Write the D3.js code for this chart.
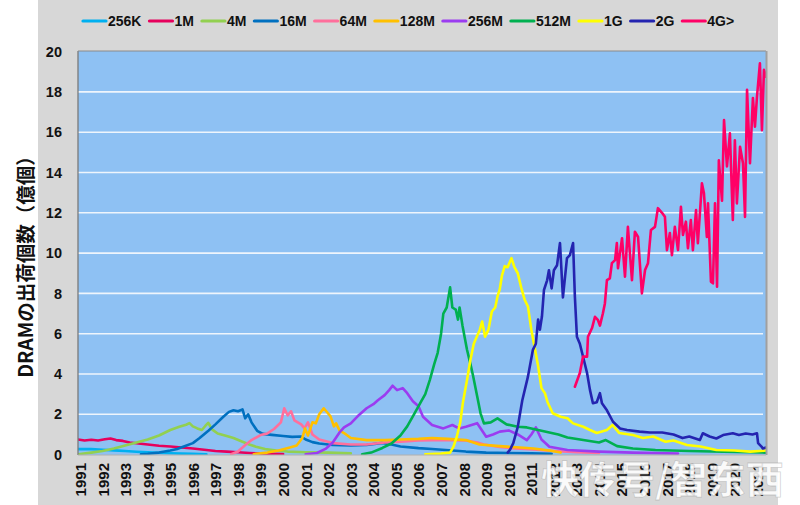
<!DOCTYPE html>
<html><head><meta charset="utf-8">
<script src="https://cdn.jsdelivr.net/npm/d3@7"></script>
<style>body{margin:0;background:#fff}</style>
</head><body>
<svg id="c" width="800" height="505"></svg>
<script>
// ---- data (year, 億個) ----
const seriesNames = ["256K","1M","4M","16M","64M","128M","256M","512M","1G","2G","4G>"];
const yTicks = [0,2,4,6,8,10,12,14,16,18,20];
const xYears = d3.range(1991, 2022);

const s256K = [[1990.91,0.27],[1991.5,0.27],[1992,0.24],[1992.5,0.21],[1993,0.18],[1993.5,0.14],[1994,0.11],[1994.5,0.09],[1995,0.07],[1995.5,0.05],[1996,0.04],[1996.6,0.02]];
const s1M = [[1990.91,0.75],[1991.2,0.7],[1991.5,0.74],[1991.8,0.7],[1992.1,0.76],[1992.35,0.8],[1992.6,0.72],[1992.9,0.68],[1993.2,0.6],[1993.6,0.55],[1994,0.5],[1994.5,0.44],[1995,0.4],[1995.5,0.35],[1996,0.3],[1996.6,0.23],[1997,0.18],[1997.5,0.15],[1998,0.12],[1998.5,0.08],[1999,0.05],[1999.5,0.04],[2000,0.03]];
const s4M = [[1990.91,0.02],[1991.5,0.1],[1992,0.18],[1992.5,0.3],[1993,0.45],[1993.5,0.6],[1994,0.75],[1994.5,0.95],[1995,1.22],[1995.4,1.38],[1995.7,1.48],[1995.85,1.56],[1996.0,1.4],[1996.2,1.3],[1996.4,1.22],[1996.55,1.42],[1996.68,1.58],[1996.85,1.25],[1997.1,1.05],[1997.5,0.92],[1997.8,0.82],[1998.2,0.64],[1998.5,0.5],[1998.8,0.39],[1999.2,0.28],[1999.7,0.2],[2000.2,0.15],[2001,0.12],[2002,0.1],[2003,0.06]];
const s16M = [[1993.7,0.02],[1994,0.04],[1994.5,0.1],[1995,0.2],[1995.3,0.28],[1995.6,0.4],[1996,0.57],[1996.3,0.82],[1996.7,1.2],[1997.0,1.5],[1997.35,1.88],[1997.6,2.12],[1997.8,2.2],[1998.0,2.15],[1998.2,2.24],[1998.32,1.8],[1998.45,2.0],[1998.6,1.6],[1998.85,1.18],[1999.1,1.03],[1999.5,0.98],[2000,0.92],[2000.4,0.88],[2000.8,0.9],[2001.0,0.75],[2001.3,0.62],[2001.6,0.55],[2002.2,0.48],[2003,0.45],[2003.7,0.48],[2004.4,0.58],[2004.8,0.5],[2005.2,0.4],[2006,0.32],[2006.6,0.28],[2007.5,0.2],[2008.1,0.15],[2009,0.1],[2010,0.08],[2011,0.06],[2011.9,0.04]];
const s64M = [[1997.7,0.02],[1998,0.15],[1998.3,0.45],[1998.6,0.72],[1999.0,0.97],[1999.3,1.05],[1999.6,1.27],[1999.9,1.6],[2000.05,2.3],[2000.2,1.95],[2000.35,2.15],[2000.5,1.7],[2000.8,1.5],[2000.95,1.3],[2001.1,1.6],[2001.3,1.0],[2001.6,0.75],[2002.2,0.57],[2003,0.5],[2003.7,0.5],[2004.5,0.6],[2005.2,0.64],[2006,0.7],[2006.6,0.72],[2007.3,0.72],[2008.1,0.7],[2008.6,0.6],[2008.9,0.5],[2009.6,0.38],[2010.3,0.3],[2011.1,0.25],[2012,0.18],[2013,0.12],[2014,0.08]];
const s128M = [[1998.7,0.02],[1999.3,0.1],[1999.8,0.2],[2000.3,0.35],[2000.6,0.45],[2000.85,0.82],[2000.97,1.3],[2001.1,0.95],[2001.3,1.6],[2001.45,1.55],[2001.6,2.0],[2001.8,2.3],[2001.95,2.1],[2002.1,1.9],[2002.25,1.4],[2002.35,1.55],[2002.5,1.2],[2002.7,1.07],[2003,0.82],[2003.7,0.72],[2004.5,0.72],[2005.2,0.75],[2006,0.78],[2006.6,0.82],[2007.3,0.78],[2008.1,0.72],[2008.7,0.5],[2009.6,0.42],[2010.5,0.35],[2011.1,0.3],[2011.8,0.2],[2012.3,0.1]];
const s256M = [[2001.0,0.02],[2001.5,0.08],[2001.9,0.3],[2002.2,0.6],[2002.5,1.1],[2002.7,1.35],[2003,1.55],[2003.3,1.9],[2003.7,2.3],[2004.0,2.5],[2004.2,2.7],[2004.5,2.95],[2004.7,3.2],[2004.85,3.42],[2005.05,3.2],[2005.3,3.3],[2005.5,3.05],[2005.75,2.65],[2006.0,2.4],[2006.2,1.88],[2006.6,1.47],[2007.1,1.3],[2007.5,1.47],[2007.8,1.3],[2008.1,1.38],[2008.6,1.56],[2009.0,0.89],[2009.3,1.0],[2009.6,1.14],[2010.0,1.2],[2010.4,1.0],[2010.8,0.72],[2011.0,1.0],[2011.2,1.35],[2011.45,0.75],[2011.8,0.39],[2012.6,0.23],[2014,0.15],[2015.5,0.1],[2017.5,0.05]];
const s512M = [[2003.5,0.02],[2003.9,0.1],[2004.4,0.33],[2004.8,0.55],[2005.2,0.95],[2005.5,1.4],[2005.8,2.0],[2006.1,2.6],[2006.3,3.0],[2006.5,3.7],[2006.7,4.5],[2006.85,5.05],[2007.0,6.0],[2007.1,7.0],[2007.25,7.3],[2007.4,8.3],[2007.5,7.3],[2007.65,7.2],[2007.75,6.7],[2007.82,7.3],[2007.95,6.4],[2008.05,5.8],[2008.15,5.2],[2008.3,4.5],[2008.42,3.9],[2008.6,2.9],[2008.75,2.05],[2008.9,1.55],[2009.2,1.6],[2009.5,1.8],[2009.9,1.5],[2010.4,1.38],[2010.8,1.35],[2011.2,1.25],[2011.8,1.1],[2012.2,1.0],[2012.6,0.85],[2013.3,0.72],[2014,0.6],[2014.3,0.72],[2014.8,0.42],[2015.5,0.3],[2016.5,0.23],[2018,0.18],[2019.5,0.14],[2021.4,0.1]];
const s1G = [[2006.3,0.02],[2007,0.05],[2007.4,0.1],[2007.55,0.4],[2007.7,0.9],[2007.85,1.6],[2007.97,2.6],[2008.15,3.7],[2008.3,4.7],[2008.45,5.5],[2008.6,5.9],[2008.72,6.2],[2008.82,6.6],[2008.95,5.85],[2009.1,6.2],[2009.25,7.1],[2009.4,7.3],[2009.5,7.85],[2009.6,8.2],[2009.7,8.9],[2009.82,9.35],[2009.95,9.3],[2010.12,9.75],[2010.25,9.3],[2010.4,9.0],[2010.55,8.3],[2010.7,7.7],[2010.85,7.35],[2011.0,6.2],[2011.15,5.3],[2011.3,4.4],[2011.45,3.3],[2011.6,3.05],[2011.72,2.6],[2011.95,2.05],[2012.3,1.88],[2012.6,1.8],[2012.85,1.55],[2013.3,1.38],[2013.6,1.22],[2013.9,1.07],[2014.35,1.22],[2014.6,1.47],[2014.9,1.07],[2015.5,0.97],[2015.95,0.82],[2016.4,0.9],[2016.95,0.64],[2017.3,0.7],[2017.9,0.48],[2018.5,0.4],[2019.2,0.23],[2020,0.2],[2020.7,0.15],[2021.4,0.2]];
const s2G = [[2009.95,0.1],[2010.05,0.23],[2010.2,0.57],[2010.4,1.38],[2010.6,2.7],[2010.85,3.87],[2011.07,5.2],[2011.2,5.5],[2011.3,6.7],[2011.38,6.2],[2011.47,6.85],[2011.56,8.17],[2011.7,8.65],[2011.78,9.15],[2011.9,8.25],[2012.0,9.15],[2012.14,9.4],[2012.27,10.5],[2012.4,7.8],[2012.58,9.75],[2012.71,9.9],[2012.85,10.5],[2012.93,7.85],[2013.02,5.85],[2013.15,5.5],[2013.29,4.87],[2013.47,4.05],[2013.6,3.2],[2013.73,2.55],[2013.9,2.6],[2014.04,3.05],[2014.13,2.55],[2014.35,2.2],[2014.62,1.63],[2014.93,1.3],[2015.24,1.22],[2015.8,1.14],[2016.25,1.1],[2016.8,1.1],[2017.3,1.0],[2017.7,0.82],[2018.0,0.9],[2018.47,0.72],[2018.6,1.06],[2018.9,0.9],[2019.2,0.8],[2019.5,0.97],[2019.93,1.06],[2020.2,0.97],[2020.5,1.05],[2020.8,1.0],[2021.0,1.06],[2021.05,0.57],[2021.2,0.4],[2021.26,0.3],[2021.4,0.35]];
const s4G = [[2012.93,3.37],[2013.15,4.05],[2013.29,4.86],[2013.47,4.86],[2013.51,5.85],[2013.69,6.28],[2013.82,6.84],[2013.95,6.68],[2014.04,6.4],[2014.17,7.0],[2014.26,7.5],[2014.35,8.66],[2014.48,8.75],[2014.57,9.5],[2014.71,9.65],[2014.79,10.5],[2014.84,9.25],[2015.02,10.74],[2015.15,8.83],[2015.28,11.3],[2015.46,8.66],[2015.59,11.06],[2015.73,10.8],[2015.9,8.0],[2016.04,9.16],[2016.17,9.5],[2016.3,11.15],[2016.48,11.3],[2016.61,12.23],[2016.79,12.0],[2016.92,11.8],[2017.01,10.15],[2017.14,11.0],[2017.23,9.9],[2017.36,11.3],[2017.5,10.15],[2017.63,12.3],[2017.72,10.9],[2017.85,11.56],[2017.94,10.24],[2018.07,11.64],[2018.16,10.15],[2018.3,12.14],[2018.38,10.49],[2018.56,13.46],[2018.65,12.97],[2018.78,10.8],[2018.83,12.47],[2018.96,8.58],[2019.05,8.5],[2019.14,12.47],[2019.23,8.33],[2019.31,14.6],[2019.45,12.6],[2019.54,16.6],[2019.67,14.3],[2019.8,15.94],[2019.93,11.64],[2020.02,15.6],[2020.11,12.47],[2020.25,15.28],[2020.38,14.46],[2020.47,11.8],[2020.56,18.1],[2020.69,14.46],[2020.82,17.7],[2020.91,16.27],[2021.0,17.76],[2021.13,19.42],[2021.22,16.1],[2021.31,19.1],[2021.4,18.75]];

const seriesData = [s256K,s1M,s4M,s16M,s64M,s128M,s256M,s512M,s1G,s2G,s4G];
const seriesColors = ["#00b0f0","#e6005c","#92d050","#0070c0","#ff6f9c","#ffc000","#9b3cf0","#00b050","#ffff00","#2424b0","#ff0066"];
const yTitle = "DRAMの出荷個数（億個）";
const watermark = "快传号/智东西";

// ---- drawing ----
const svg = d3.select("#c");
const L = 78, R = 766, T = 51, B = 455;
const font = "'Liberation Sans', Arial, sans-serif";

svg.append("rect").attr("x",38).attr("y",0).attr("width",740).attr("height",505).attr("fill","#d7d7d7");

const x = d3.scaleLinear().domain([1990.91, 2021.4]).range([L, R]);
const y = d3.scaleLinear().domain([0, 20]).range([454.6, 51.6]);

svg.append("rect").attr("x",L).attr("y",T).attr("width",R-L).attr("height",B-T).attr("fill","#8ec1f3");

// grid
svg.append("g").selectAll("line").data(yTicks.filter(v=>v>0 && v<20)).join("line")
  .attr("x1",L).attr("x2",R-3).attr("y1",d=>y(d)).attr("y2",d=>y(d))
  .attr("stroke","#eef5fc").attr("stroke-width",1.6);

// lines
svg.append("clipPath").attr("id","clip").append("rect").attr("x",L).attr("y",T-2).attr("width",R-L).attr("height",B-T+2);
const line = d3.line().x(d=>x(d[0])).y(d=>y(d[1]));
svg.append("g").attr("clip-path","url(#clip)").selectAll("path").data(seriesData).join("path")
  .attr("d",line).attr("fill","none")
  .attr("stroke",(d,i)=>seriesColors[i]).attr("stroke-width",2.6)
  .attr("stroke-linejoin","round").attr("stroke-linecap","round");

// border
svg.append("line").attr("x1",L).attr("x2",L).attr("y1",T).attr("y2",B).attr("stroke","#7a7a7a").attr("stroke-width",1.3);
svg.append("line").attr("x1",L).attr("x2",R).attr("y1",T).attr("y2",T).attr("stroke","#8a8a8a").attr("stroke-width",1);
svg.append("line").attr("x1",R+0.5).attr("x2",R+0.5).attr("y1",T).attr("y2",B).attr("stroke","#a0a0a0").attr("stroke-width",2);
svg.append("line").attr("x1",L).attr("x2",R).attr("y1",B).attr("y2",B).attr("stroke","#b0b0b0").attr("stroke-width",1);

// y axis
const ya = svg.append("g").attr("transform",`translate(${L},0)`)
  .call(d3.axisLeft(y).tickValues(yTicks).tickSize(0).tickPadding(16));
ya.select(".domain").remove();
ya.selectAll("text").attr("font-family",font).attr("font-weight","bold").attr("font-size",14.5).attr("fill","#111");

// x axis
const xa = svg.append("g").attr("transform",`translate(0,${B})`)
  .call(d3.axisBottom(x).tickValues(xYears).tickFormat(d3.format("d")).tickSize(0));
xa.select(".domain").remove();
xa.selectAll("text").attr("transform","rotate(-90)").attr("x",-8).attr("y",0).attr("dy","0.36em")
  .style("text-anchor","end").attr("font-family",font).attr("font-weight","bold").attr("font-size",15).attr("fill","#111");

// y title
svg.append("text").attr("transform","translate(24,262) rotate(-90)")
  .attr("text-anchor","middle").attr("dominant-baseline","central")
  .attr("font-family","'Noto Sans CJK JP', sans-serif").attr("font-weight","bold").attr("font-size",19.5).attr("fill","#111")
  .text(yTitle);

// legend
const lg = svg.append("g").attr("transform","translate(0,21)");
let lx = 83;
seriesNames.forEach((n,i)=>{
  lg.append("line").attr("x1",lx).attr("x2",lx+23).attr("y1",0).attr("y2",0)
    .attr("stroke",seriesColors[i]).attr("stroke-width",3.2).attr("stroke-linecap","round");
  const t = lg.append("text").attr("x",lx+25).attr("y",0).attr("dy","0.36em")
    .attr("font-family",font).attr("font-weight","bold").attr("font-size",14).attr("fill","#111").text(n);
  lx += 25 + t.node().getComputedTextLength() + 8;
});

// watermark
svg.append("text").attr("x",541).attr("y",493)
  .attr("font-family","'Noto Sans CJK SC', sans-serif").attr("font-weight","bold").attr("font-size",38)
  .attr("fill","#ffffff").attr("fill-opacity",0.9).attr("stroke","#9a9a9a").attr("stroke-opacity",0.45).attr("stroke-width",0.8)
  .text(watermark);
</script>
</body></html>
